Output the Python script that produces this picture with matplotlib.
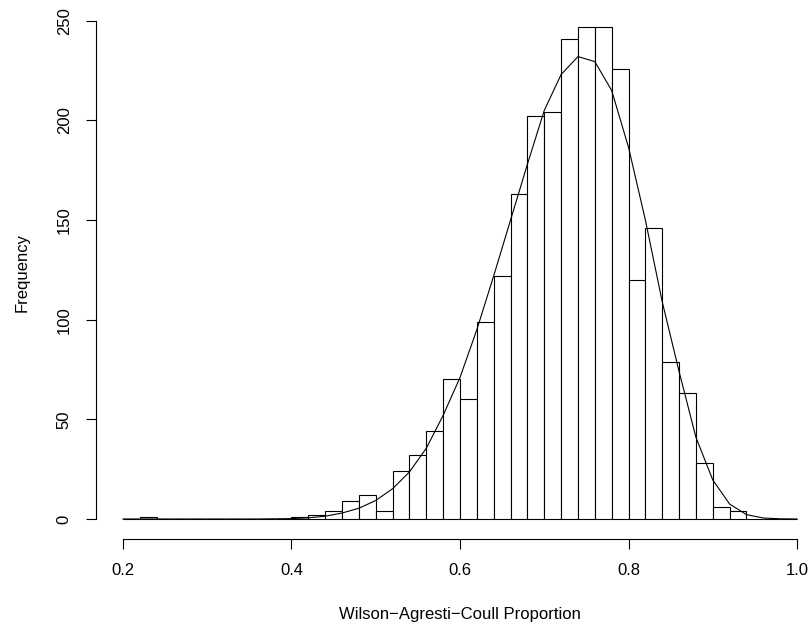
import numpy as np
import matplotlib.pyplot as plt

plt.rcParams['font.family'] = ['Liberation Sans', 'DejaVu Sans']

# Histogram breaks (bin width 0.02) and counts per bin
breaks = np.linspace(0.2, 1.0, 41)
counts = [0, 1, 0, 0, 0, 0, 0, 0, 0, 0,
          1, 2, 4, 9, 12, 4, 24, 32, 44, 70,
          60, 99, 122, 163, 202, 204, 241, 247, 247, 226,
          120, 146, 79, 63, 28, 6, 4, 0, 0, 0]

# Smoothed frequency curve, one value per break
curve = [0, 0, 0, 0, 0, 0, 0, 0, 0, 0.1,
         0.2, 0.6, 1.4, 3.0, 5.4, 9.3, 15.2, 23.6, 35.5, 52,
         71, 95, 122, 150, 178, 205, 223, 232, 229.5, 215,
         186.5, 150, 109, 74, 41, 19.6, 7.5, 2.2, 0.5, 0.1, 0]

xticks = [0.2, 0.4, 0.6, 0.8, 1.0]
yticks = [0, 50, 100, 150, 200, 250]

W, H = 809, 626
fig = plt.figure(figsize=(W / 100, H / 100), dpi=100)
ax = fig.add_axes([96 / W, 87.3 / H, 728 / W, 531.7 / H])

lw = 0.8
ax.bar(breaks[:-1], counts, width=0.02, align='edge', facecolor='white',
       edgecolor='black', linewidth=lw)
ax.plot(breaks, curve, color='black', linewidth=lw)

# R-style axes: detached lines spanning only the tick range
ax.set_xlim(0.168, 1.032)
ax.set_ylim(-9.88, 256.88)
for s in ['top', 'right']:
    ax.spines[s].set_visible(False)
ax.spines['left'].set_bounds(0, 250)
ax.spines['bottom'].set_bounds(0.2, 1.0)
ax.spines['left'].set_linewidth(lw)
ax.spines['bottom'].set_linewidth(lw)

ax.set_xticks(xticks)
ax.set_xticklabels(['0.2', '0.4', '0.6', '0.8', '1.0'])
ax.set_yticks(yticks)
ax.set_yticklabels([str(v) for v in yticks], rotation=90, va='center')
ax.tick_params(length=7.5, width=lw, labelsize=12, pad=10)

fig.text(460 / W, 1 - 615 / H, 'Wilson\u2212Agresti\u2212Coull Proportion',
         ha='center', va='center', fontsize=12)
fig.text(22 / W, 1 - 272.9 / H, 'Frequency', rotation=90,
         ha='center', va='center', fontsize=12)

fig.savefig('out.png', dpi=100)
